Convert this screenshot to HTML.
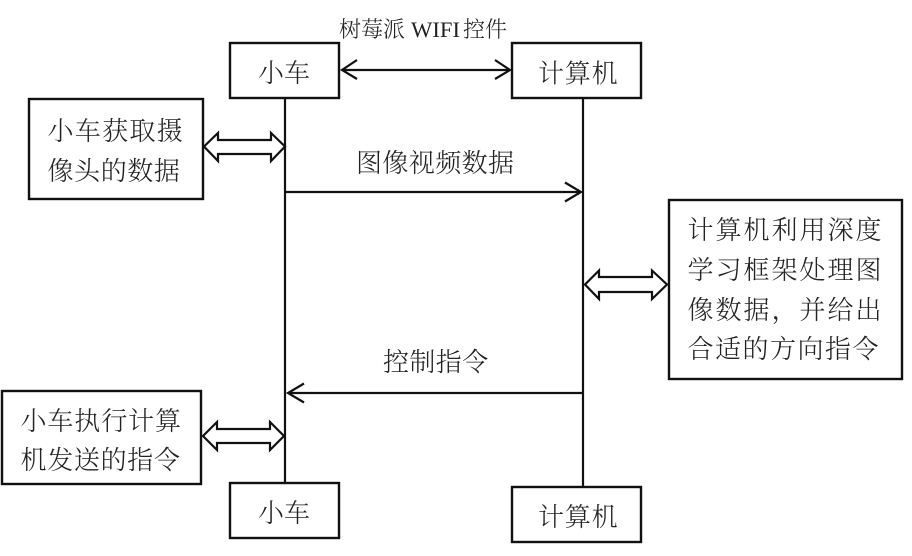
<!DOCTYPE html>
<html><head><meta charset="utf-8"><style>
html,body{margin:0;padding:0;background:#fff;width:912px;height:556px;overflow:hidden}
svg{display:block}
text{font-family:"Liberation Serif","Noto Serif CJK SC",serif;font-weight:300;fill:#222}
.b{fill:#fff;stroke:#111;stroke-width:2.4}
.l{fill:none;stroke:#111;stroke-width:2.2}
.d{fill:#fff;stroke:#111;stroke-width:2.2;stroke-linejoin:miter}
.t{font-size:26px}
.w{font-size:22px}
</style></head><body>
<svg width="912" height="556" viewBox="0 0 912 556" xmlns="http://www.w3.org/2000/svg">
<path class="l" d="M285 98V483M583 98V487"/>
<rect class="b" x="230" y="43" width="109" height="55"/>
<rect class="b" x="512" y="43" width="129" height="55"/>
<rect class="b" x="230" y="483" width="109" height="55"/>
<rect class="b" x="512" y="487" width="129" height="55"/>
<rect class="b" x="29" y="99" width="174" height="100"/>
<rect class="b" x="2" y="391" width="199" height="93"/>
<rect class="b" x="669" y="200" width="233" height="179"/>
<path class="l" d="M342 70H510M357 60L342 70L357 79M495 60L510 70L495 79"/>
<path class="l" d="M286 192H581M565 182.500L581 192L565 201.500"/>
<path class="l" d="M583 393H288M304 383.500L288 393L304 402.500"/>
<path class="d" d="M204 146.500L218 133V140H271V133L285 146.500L271 161V154H218V161Z"/>
<path class="d" d="M585 284.500L599 270.500V277H652V270.500L667 284.500L652 299V292H599V299Z"/>
<path class="d" d="M203 436L217 422V429H270V422L284 436L270 450V443H217V450Z"/>
<text class="w" x="339" y="37">树莓派</text>
<text class="w" x="411" y="37" textLength="49" lengthAdjust="spacingAndGlyphs">WIFI</text>
<text class="w" x="463" y="37">控件</text>
<text class="t" x="258" y="82">小车</text>
<text class="t" x="538" y="82.500" style="letter-spacing:.8px">计算机</text>
<text class="t" x="258" y="522">小车</text>
<text class="t" x="538" y="526" style="letter-spacing:.8px">计算机</text>
<text class="t" x="356" y="172" style="letter-spacing:.4px">图像视频数据</text>
<text class="t" x="383" y="371" style="letter-spacing:.4px">控制指令</text>
<text class="t" x="47.500" y="140" style="letter-spacing:1.300px">小车获取摄</text>
<text class="t" x="47.500" y="180" style="letter-spacing:.6px">像头的数据</text>
<text class="t" x="20.500" y="430" style="letter-spacing:.9px">小车执行计算</text>
<text class="t" x="20.500" y="469" style="letter-spacing:.7px">机发送的指令</text>
<text class="t" x="687.500" y="239" style="letter-spacing:2px">计算机利用深度</text>
<text class="t" x="687.500" y="279" style="letter-spacing:2px">学习框架处理图</text>
<text class="t" x="687.500" y="319" style="letter-spacing:2px">像数据，并给出</text>
<text class="t" x="687.500" y="358" style="letter-spacing:1.500px">合适的方向指令</text>
</svg>
</body></html>
